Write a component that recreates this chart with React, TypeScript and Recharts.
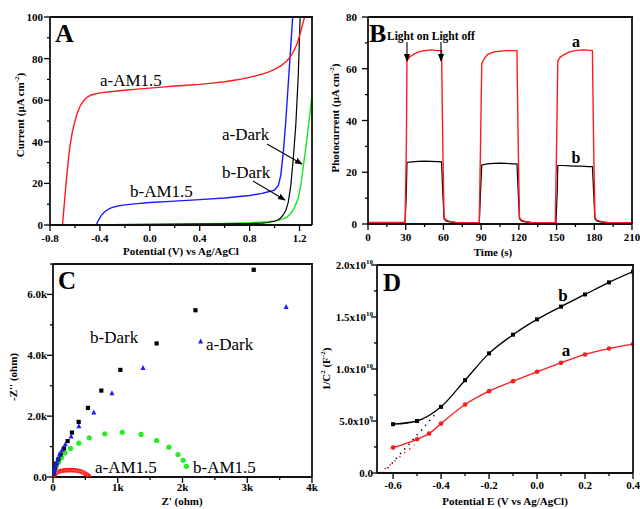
import React from "react";
import {
  LineChart, Line, ScatterChart, Scatter, XAxis, YAxis,
} from "recharts";

const FONT = '"Liberation Serif", "Times New Roman", serif';

// ---------- Panel A: J-V curves ----------
const aLightV = [-0.7, -0.69, -0.68, -0.67, -0.66, -0.65, -0.64, -0.62, -0.6, -0.58, -0.56, -0.54, -0.52, -0.5, -0.47, -0.44, -0.4, -0.3, -0.2, -0.1, 0, 0.1, 0.2, 0.3, 0.4, 0.5, 0.6, 0.7, 0.8, 0.9, 0.95, 1.0, 1.05, 1.1, 1.14, 1.18, 1.21, 1.24];
const aLightI = [0, 7, 14, 21, 27, 33, 38, 45, 50, 54, 57, 59, 60.5, 61.5, 62.5, 63, 63.5, 64.2, 64.8, 65.3, 65.8, 66.3, 66.8, 67.2, 67.6, 68.2, 68.9, 69.8, 71, 72.5, 73.5, 74.8, 76.5, 79, 82, 87, 93, 100];
const bLightV = [-0.43, -0.41, -0.39, -0.36, -0.32, -0.28, -0.24, -0.2, -0.1, 0, 0.2, 0.4, 0.6, 0.8, 0.9, 0.95, 1.0, 1.03, 1.05, 1.07, 1.09, 1.11, 1.13, 1.145];
const bLightI = [0, 2.5, 4.5, 6.5, 8, 8.8, 9.3, 9.7, 10.3, 10.8, 11.5, 12.2, 13, 14.2, 15.2, 16, 16.8, 19, 24, 35, 50, 68, 86, 100];
const bDarkV = [-0.3, 0, 0.3, 0.6, 0.8, 0.9, 0.95, 1.0, 1.03, 1.05, 1.07, 1.09, 1.11, 1.13, 1.15, 1.17, 1.19, 1.205];
const bDarkI = [0.2, 0.3, 0.4, 0.5, 0.7, 0.9, 1.2, 1.8, 2.5, 3.5, 5, 7, 11, 19, 32, 48, 72, 100];
const aDarkV = [-0.3, 0, 0.3, 0.6, 0.8, 0.95, 1.0, 1.05, 1.1, 1.13, 1.16, 1.19, 1.21, 1.23, 1.25, 1.27, 1.29, 1.3];
const aDarkI = [0.1, 0.3, 0.5, 0.8, 1.1, 1.6, 2.0, 2.6, 3.8, 5.5, 8.5, 13, 19, 28, 37, 47, 57, 63];
const aXMajor = [-0.8, -0.4, 0, 0.4, 0.8, 1.2];
const aXMinor = [-0.6, -0.2, 0.2, 0.6, 1.0];
const aYMajor = [0, 20, 40, 60, 80, 100];
const aYMinor = [10, 30, 50, 70, 90];

// ---------- Panel B: transient photocurrent ----------
const bTimeA = [0, 29.5, 30.5, 31, 33, 36, 40, 45, 50, 55, 58.5, 59.5, 60.5, 62, 65, 70, 80, 88.5, 89.5, 90.5, 92, 95, 100, 105, 110, 115, 118.5, 119.5, 120.5, 122, 125, 130, 140, 149, 150, 151, 153, 156, 160, 165, 170, 175, 178.5, 179.5, 180.5, 182, 185, 190, 200, 210];
const bCurrA = [0.6, 0.6, 30, 63, 64.5, 65.5, 66.5, 67, 67.3, 67, 67, 30, 2.5, 1.6, 1.0, 0.6, 0.5, 0.5, 30, 62, 63.5, 65.5, 66.5, 66.8, 67, 67, 67, 30, 2.5, 1.5, 1.0, 0.6, 0.5, 0.5, 30, 63, 64.5, 65.5, 66.5, 67, 67.3, 67.2, 67, 30, 2.5, 1.5, 1.0, 0.6, 0.5, 0.5];
const bTimeB = [0, 29.5, 30.5, 31, 35, 40, 45, 50, 55, 58.5, 59.5, 60.5, 62, 65, 70, 80, 88.5, 89.5, 90.5, 95, 100, 105, 110, 115, 118.5, 119.5, 120.5, 122, 125, 130, 140, 149.5, 150.5, 151, 155, 160, 165, 170, 175, 178.5, 179.5, 180.5, 182, 185, 190, 200, 210];
const bCurrB = [0.3, 0.3, 12, 23.8, 24, 24.2, 24.3, 24.2, 24.1, 24, 12, 2, 1.2, 0.8, 0.5, 0.3, 0.3, 12, 22.8, 23.2, 23.4, 23.5, 23.4, 23.2, 23.2, 12, 2, 1.2, 0.8, 0.5, 0.3, 0.3, 12, 22.6, 22.6, 22.5, 22.4, 22.4, 22.2, 22.2, 12, 2, 1.2, 0.8, 0.5, 0.3, 0.3];
const bXMajor = [0, 30, 60, 90, 120, 150, 180, 210];
const bXMinor = [15, 45, 75, 105, 135, 165, 195];
const bYMajor = [0, 20, 40, 60, 80];
const bYMinor = [10, 30, 50, 70];

// ---------- Panel C: Nyquist plots ----------
const cBDarkRe = [5, 15, 30, 50, 82, 118, 170, 226, 293, 396, 540, 746, 1040, 1600, 2200, 3100];
const cBDarkIm = [110, 200, 310, 440, 580, 740, 940, 1180, 1460, 1810, 2270, 2840, 3520, 4390, 5480, 6810];
const cADarkRe = [15, 26, 40, 57, 77, 100, 140, 190, 280, 400, 630, 910, 1390, 2280, 3600];
const cADarkIm = [140, 240, 350, 470, 600, 740, 890, 1080, 1330, 1670, 2120, 2750, 3580, 4450, 5590];
const cBLightRe = [30, 50, 87, 130, 185, 270, 400, 560, 800, 1070, 1360, 1600, 1790, 1930, 2010, 2060];
const cBLightIm = [220, 350, 490, 630, 790, 940, 1110, 1290, 1420, 1470, 1400, 1200, 980, 740, 550, 350];
const cALightRe = [10, 20, 35, 55, 80, 110, 140, 170, 200, 230, 260, 290, 320, 350, 380, 410, 440, 470, 500, 525, 545, 560];
const cALightIm = [30, 70, 110, 145, 170, 190, 205, 215, 220, 225, 225, 225, 220, 215, 205, 190, 170, 145, 110, 75, 40, 10];
const cXMajor = [0, 1000, 2000, 3000, 4000];
const cXMinor = [500, 1500, 2500, 3500];
const cYMajor = [0, 2000, 4000, 6000];
const cYMinor = [1000, 3000, 5000, 7000];

// ---------- Panel D: Mott-Schottky ----------
const dPot = [-0.6, -0.5, -0.4, -0.3, -0.2, -0.1, 0, 0.1, 0.2, 0.3, 0.4];
const dB = [4.69e9, 5.0e9, 6.36e9, 8.92e9, 1.15e10, 1.33e10, 1.477e10, 1.6e10, 1.717e10, 1.833e10, 1.936e10];
const dAPot = [-0.6, -0.5, -0.45, -0.4, -0.3, -0.2, -0.1, 0, 0.1, 0.2, 0.3, 0.4];
const dA = [2.44e9, 3.24e9, 3.79e9, 4.75e9, 6.58e9, 7.87e9, 8.83e9, 9.73e9, 1.059e10, 1.14e10, 1.197e10, 1.239e10];
const dBFitPot = [-0.64, -0.418];
const dBFit = [0, 5.81e9];
const dAFitPot = [-0.655, -0.51];
const dAFit = [0, 2.7e9];
const dXMajor = [-0.6, -0.4, -0.2, 0, 0.2, 0.4];
const dXMinor = [-0.5, -0.3, -0.1, 0.1, 0.3];
const dYMajor = [0, 5e9, 1e10, 1.5e10, 2e10];
const dYMinor = [2.5e9, 7.5e9, 1.25e10, 1.75e10];

const zip = (xs: number[], ys: number[]) => xs.map((x, i) => ({ x, y: ys[i] }));
const isIn = (arr: number[], v: number) => arr.some((m) => Math.abs(m - v) < 1e-6 * Math.max(1, Math.abs(m)));

const tickText = { fontFamily: FONT, fontWeight: "bold" as const, fontSize: 11, fill: "#000" };

const yTick = (majors: number[], fmt: (v: number) => React.ReactNode, gap: number) => (p: any) => {
  const v = p.payload.value;
  const major = isIn(majors, v);
  return (
    <g>
      <line x1={p.x - (major ? 6 : 3)} x2={p.x} y1={p.y} y2={p.y} stroke="#000" strokeWidth={1.3} />
      {major && (
        <text x={p.x - gap} y={p.y} dy={4} textAnchor="end" {...tickText}>{fmt(v)}</text>
      )}
    </g>
  );
};

const xTick = (majors: number[], fmt: (v: number) => React.ReactNode, gap: number) => (p: any) => {
  const v = p.payload.value;
  const major = isIn(majors, v);
  return (
    <g>
      <line x1={p.x} x2={p.x} y1={p.y} y2={p.y + (major ? 6 : 3)} stroke="#000" strokeWidth={1.3} />
      {major && (
        <text x={p.x} y={p.y + gap} textAnchor="middle" {...tickText}>{fmt(v)}</text>
      )}
    </g>
  );
};

const fix1 = (v: number) => (Math.abs(v) < 1e-9 ? "0.0" : v.toFixed(1));
const kFmt = (v: number) => (v === 0 ? "0" : `${v / 1000}k`);
const kFmt1 = (v: number) => (v === 0 ? "0.0" : `${(v / 1000).toFixed(1)}k`);
const sciFmt = (v: number) => {
  if (v === 0) return "0.0";
  const e = Math.floor(Math.log10(v) + 1e-9);
  const m = (v / Math.pow(10, e)).toFixed(1);
  return [
    <tspan key="m">{`${m}x10`}</tspan>,
    <tspan key="e" dy={-5} fontSize={7}>{e}</tspan>,
  ];
};

const axisLine = { stroke: "#111", strokeWidth: 1.8 };

// plot boxes follow from each chart's margins and axis sizes
const PANEL_BOXES = [
  [50, 17, 312, 225],
  [368, 17, 632, 224],
  [53, 264, 312, 477],
  [377, 265, 633, 473],
];

const square = (size: number, color: string) => (p: any) => (
  <rect x={p.cx - size / 2} y={p.cy - size / 2} width={size} height={size} fill={color} />
);
const triangle = (size: number, color: string) => (p: any) => (
  <polygon
    points={`${p.cx},${p.cy - size * 0.6} ${p.cx - size / 2},${p.cy + size * 0.4} ${p.cx + size / 2},${p.cy + size * 0.4}`}
    fill={color}
  />
);
const circle = (r: number, color: string) => (p: any) => (
  <circle cx={p.cx} cy={p.cy} r={r} fill={color} />
);
const ring = (r: number, color: string) => (p: any) => (
  <circle cx={p.cx} cy={p.cy} r={r} fill="none" stroke={color} strokeWidth={1.1} />
);

const Arrow = ({ x1, y1, x2, y2 }: { x1: number; y1: number; x2: number; y2: number }) => (
  <line x1={x1} y1={y1} x2={x2} y2={y2} stroke="#000" strokeWidth={1.1} markerEnd="url(#arrowHead)" />
);

const label = { fontFamily: FONT, fill: "#000" };
const title = { fontFamily: FONT, fontWeight: "bold" as const, fontSize: 11, fill: "#000" };

export default function App() {
  return (
    <div style={{ position: "absolute", left: 0, top: 0, width: 640, height: 509, background: "#fff", overflow: "hidden" }}>
      {/* A */}
      <div style={{ position: "absolute", left: 0, top: 0 }}>
        <LineChart width={320} height={262} margin={{ top: 17, right: 8, bottom: 0, left: 0 }}>
          <XAxis type="number" dataKey="x" domain={[-0.8, 1.3]} ticks={[...aXMajor, ...aXMinor]} interval={0}
            allowDataOverflow tickSize={0} tickMargin={0} tickLine={false} axisLine={axisLine} height={37}
            tick={xTick(aXMajor, fix1, 17)} />
          <YAxis type="number" domain={[0, 100]} ticks={[...aYMajor, ...aYMinor]} interval={0}
            allowDataOverflow tickSize={0} tickMargin={0} tickLine={false} axisLine={axisLine} width={50}
            tick={yTick(aYMajor, (v) => String(v), 7)} />
          <Line data={zip(aDarkV, aDarkI)} dataKey="y" type="linear" dot={false} stroke="#19e619" strokeWidth={1.4} isAnimationActive={false} />
          <Line data={zip(bDarkV, bDarkI)} dataKey="y" type="linear" dot={false} stroke="#000" strokeWidth={1.2} isAnimationActive={false} />
          <Line data={zip(bLightV, bLightI)} dataKey="y" type="linear" dot={false} stroke="#1a1aff" strokeWidth={1.4} isAnimationActive={false} />
          <Line data={zip(aLightV, aLightI)} dataKey="y" type="linear" dot={false} stroke="#ff1a1a" strokeWidth={1.4} isAnimationActive={false} />
        </LineChart>
      </div>

      {/* B */}
      <div style={{ position: "absolute", left: 320, top: 0 }}>
        <LineChart width={320} height={262} margin={{ top: 17, right: 8, bottom: 0, left: 0 }}>
          <XAxis type="number" dataKey="x" domain={[0, 210]} ticks={[...bXMajor, ...bXMinor]} interval={0}
            allowDataOverflow tickSize={0} tickMargin={0} tickLine={false} axisLine={axisLine} height={38}
            tick={xTick(bXMajor, (v) => String(v), 17)} />
          <YAxis type="number" domain={[0, 80]} ticks={[...bYMajor, ...bYMinor]} interval={0}
            allowDataOverflow tickSize={0} tickMargin={0} tickLine={false} axisLine={axisLine} width={48}
            tick={yTick(bYMajor, (v) => String(v), 11)} />
          <Line data={zip(bTimeB, bCurrB)} dataKey="y" type="linear" dot={false} stroke="#000" strokeWidth={1.2} isAnimationActive={false} />
          <Line data={zip(bTimeA, bCurrA)} dataKey="y" type="linear" dot={false} stroke="#ff1a1a" strokeWidth={1.4} isAnimationActive={false} />
        </LineChart>
      </div>

      {/* C */}
      <div style={{ position: "absolute", left: 0, top: 250 }}>
        <ScatterChart width={320} height={259} margin={{ top: 14, right: 8, bottom: 0, left: 0 }}>
          <XAxis type="number" dataKey="x" domain={[0, 4000]} ticks={[...cXMajor, ...cXMinor]} interval={0}
            allowDataOverflow tickSize={0} tickMargin={0} tickLine={false} axisLine={axisLine} height={32}
            tick={xTick(cXMajor, kFmt, 14)} />
          <YAxis type="number" dataKey="y" domain={[0, 7000]} ticks={[...cYMajor, ...cYMinor]} interval={0}
            allowDataOverflow tickSize={0} tickMargin={0} tickLine={false} axisLine={axisLine} width={53}
            tick={yTick(cYMajor, kFmt1, 6)} />
          <Scatter data={zip(cALightRe, cALightIm)} shape={ring(1.8, "#ff1a1a")} isAnimationActive={false} />
          <Scatter data={zip(cBLightRe, cBLightIm)} shape={circle(2.6, "#22ee22")} isAnimationActive={false} />
          <Scatter data={zip(cBDarkRe, cBDarkIm)} shape={square(4.2, "#000")} isAnimationActive={false} />
          <Scatter data={zip(cADarkRe, cADarkIm)} shape={triangle(5, "#1a1aff")} isAnimationActive={false} />
        </ScatterChart>
      </div>

      {/* D */}
      <div style={{ position: "absolute", left: 320, top: 250 }}>
        <LineChart width={320} height={259} margin={{ top: 15, right: 7, bottom: 0, left: 0 }}>
          <XAxis type="number" dataKey="x" domain={[-0.667, 0.4]} ticks={[...dXMajor, ...dXMinor]} interval={0}
            allowDataOverflow tickSize={0} tickMargin={0} tickLine={false} axisLine={axisLine} height={36}
            tick={xTick(dXMajor, fix1, 16)} />
          <YAxis type="number" domain={[0, 2e10]} ticks={[...dYMajor, ...dYMinor]} interval={0}
            allowDataOverflow tickSize={0} tickMargin={0} tickLine={false} axisLine={axisLine} width={57}
            tick={yTick(dYMajor, sciFmt, 4)} />
          <Line data={zip(dBFitPot, dBFit)} dataKey="y" type="linear" dot={false} stroke="#000" strokeWidth={1.6}
            strokeDasharray="1.3 5" isAnimationActive={false} />
          <Line data={zip(dAFitPot, dAFit)} dataKey="y" type="linear" dot={false} stroke="#ff1a1a" strokeWidth={1.6}
            strokeDasharray="1.3 5" isAnimationActive={false} />
          <Line data={zip(dPot, dB)} dataKey="y" type="monotone" stroke="#000" strokeWidth={1.3}
            dot={square(4, "#000")} isAnimationActive={false} />
          <Line data={zip(dAPot, dA)} dataKey="y" type="monotone" stroke="#ff1a1a" strokeWidth={1.3}
            dot={circle(2.3, "#ff1a1a")} isAnimationActive={false} />
        </LineChart>
      </div>

      {/* frames, annotations and titles */}
      <svg width={640} height={509} viewBox="0 0 640 509"
        style={{ position: "absolute", left: 0, top: 0, pointerEvents: "none", zIndex: 5 }}>
        <defs>
          <marker id="arrowHead" viewBox="0 0 10 10" refX="9" refY="5" markerWidth="7" markerHeight="7" orient="auto-start-reverse">
            <path d="M0,1 L10,5 L0,9 z" fill="#000" />
          </marker>
        </defs>
        {PANEL_BOXES.map(([x1, y1, x2, y2], i) => (
          <g key={i}>
            <line x1={x1} y1={y1} x2={x2 + 1} y2={y1} stroke="#111" strokeWidth={1.8} />
            <line x1={x2} y1={y1} x2={x2} y2={y2} stroke="#111" strokeWidth={1.8} />
          </g>
        ))}

        {/* A */}
        <text x={55} y={42} {...label} fontSize={26} fontWeight="bold">A</text>
        <text transform="translate(24,115) rotate(-90)" textAnchor="middle" {...title}>
          Current (μA cm<tspan dy={-5} fontSize={7}>-2</tspan><tspan dy={5}>)</tspan>
        </text>
        <text x={181} y={255} textAnchor="middle" {...title}>Potential (V) vs Ag/AgCl</text>
        <text x={100} y={86} {...label} fontSize={17}>a-AM1.5</text>
        <text x={130} y={197} {...label} fontSize={17}>b-AM1.5</text>
        <text x={222} y={140} {...label} fontSize={17}>a-Dark</text>
        <text x={222} y={178} {...label} fontSize={17}>b-Dark</text>
        <Arrow x1={267} y1={144} x2={302} y2={164} />
        <Arrow x1={253} y1={181} x2={285} y2={200} />

        {/* B */}
        <text x={369} y={42} {...label} fontSize={26} fontWeight="bold">B</text>
        <text x={387} y={40} {...title} fontSize={11.5}>Light on Light off</text>
        <Arrow x1={407} y1={42} x2={407} y2={61} />
        <Arrow x1={441} y1={42} x2={441} y2={61} />
        <text x={576} y={47} textAnchor="middle" {...label} fontSize={16} fontWeight="bold">a</text>
        <text x={576} y={163} textAnchor="middle" {...label} fontSize={16} fontWeight="bold">b</text>
        <text transform="translate(339,118) rotate(-90)" textAnchor="middle" {...title}>
          Photocurrent (μA cm<tspan dy={-5} fontSize={7}>-2</tspan><tspan dy={5}>)</tspan>
        </text>
        <text x={493} y={256} textAnchor="middle" {...title}>Time (s)</text>

        {/* C */}
        <text x={58} y={289} {...label} fontSize={25} fontWeight="bold">C</text>
        <text transform="translate(17,377) rotate(-90)" textAnchor="middle" {...title}>-Z'' (ohm)</text>
        <text x={182} y={505} textAnchor="middle" {...title}>Z' (ohm)</text>
        <text x={90} y={343} {...label} fontSize={17}>b-Dark</text>
        <text x={206} y={350} {...label} fontSize={17}>a-Dark</text>
        <text x={95} y={473} {...label} fontSize={17}>a-AM1.5</text>
        <text x={193} y={473} {...label} fontSize={17}>b-AM1.5</text>

        {/* D */}
        <text x={383} y={291} {...label} fontSize={25} fontWeight="bold">D</text>
        <text transform="translate(330,369) rotate(-90)" textAnchor="middle" {...title}>
          1/C<tspan dy={-5} fontSize={7}>2</tspan><tspan dy={5}> (F</tspan><tspan dy={-5} fontSize={7}>-2</tspan><tspan dy={5}>)</tspan>
        </text>
        <text x={505} y={505} textAnchor="middle" {...title}>Potential E (V vs Ag/AgCl)</text>
        <text x={563} y={301} textAnchor="middle" {...label} fontSize={17} fontWeight="bold">b</text>
        <text x={566} y={356} textAnchor="middle" {...label} fontSize={17} fontWeight="bold">a</text>
      </svg>
    </div>
  );
}
